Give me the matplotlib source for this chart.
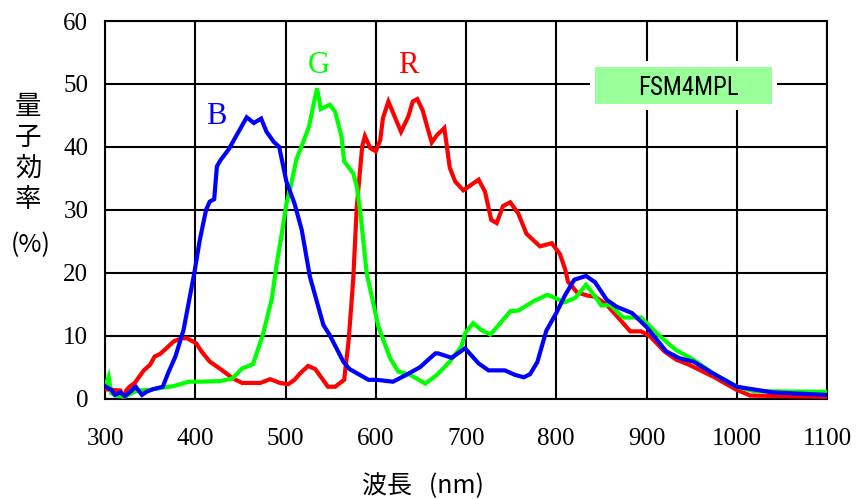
import matplotlib

matplotlib.use("Agg")
import matplotlib.pyplot as plt
from matplotlib import font_manager
from matplotlib.patches import Rectangle

# wavelength (nm) / quantum efficiency (%)
red_wl = [300, 309, 317, 320, 324, 328, 333, 343, 350, 355, 361, 368, 376, 385, 391,
          401, 407, 416, 429, 442, 452, 472, 483, 494, 503, 510, 516, 525, 533, 547,
          555, 565, 570, 575, 579, 585, 588, 594, 600, 605, 608, 614, 621, 628, 636,
          641, 646, 652, 657, 662, 668, 676, 682, 688, 697, 704, 714, 721, 728, 734,
          741, 749, 758, 767, 782, 795, 804, 810, 813, 823, 834, 843, 856, 871, 882,
          894, 904, 920, 933, 947, 974, 1000, 1015, 1100]
red_qe = [1.5, 1.4, 1.3, 0.3, 1.4, 2.0, 2.5, 4.5, 5.4, 6.7, 7.1, 8.0, 9.1, 9.6, 9.6,
          8.8, 7.5, 5.9, 4.6, 3.2, 2.5, 2.5, 3.1, 2.5, 2.3, 3.0, 4.0, 5.2, 4.7, 1.9,
          1.9, 3.0, 9.3, 18.9, 30.5, 40.1, 41.7, 39.8, 39.3, 41.1, 44.6, 47.2, 44.8, 42.4, 44.8,
          47.2, 47.6, 45.8, 43.2, 40.7, 41.9, 43.0, 36.7, 34.5, 33.1, 33.8, 34.8, 32.9, 28.4, 27.9,
          30.6, 31.2, 29.4, 26.2, 24.2, 24.7, 23.0, 20.5, 18.6, 16.9, 16.4, 16.2, 14.9, 12.5, 10.7,
          10.7, 9.9, 7.5, 6.2, 5.4, 3.5, 1.4, 0.5, 0.3]

green_wl = [300, 304, 307, 312, 322, 331, 338, 350, 361, 376, 393, 406, 428, 441, 452,
            464, 475, 485, 490, 496, 501, 505, 512, 520, 526, 531, 535, 539, 549, 555,
            562, 565, 575, 579, 583, 590, 603, 616, 625, 638, 655, 668, 682, 695, 699,
            708, 717, 727, 738, 749, 758, 775, 790, 799, 809, 821, 833, 839, 850, 860,
            874, 894, 915, 933, 952, 974, 1000, 1019, 1100]
green_qe = [1.9, 3.5, 0.9, 0.5, 0.3, 1.0, 1.3, 1.4, 1.7, 2.0, 2.7, 2.7, 2.8, 3.2, 4.8,
            5.5, 10.2, 16.0, 21.2, 26.3, 31.0, 33.2, 38.0, 40.9, 43.2, 46.7, 49.3, 46.0, 46.7, 45.6,
            41.7, 37.7, 35.8, 33.7, 29.5, 19.9, 11.4, 6.4, 4.3, 3.8, 2.4, 3.8, 5.9, 8.3, 10.4,
            12.0, 10.9, 10.2, 12.0, 13.9, 14.0, 15.5, 16.5, 16.0, 15.3, 16.0, 18.1, 17.0, 14.8, 14.9,
            12.9, 12.9, 9.9, 7.7, 6.2, 4.0, 1.9, 1.2, 1.1]

blue_wl = [300, 307, 311, 317, 322, 328, 334, 341, 346, 353, 364, 370, 378, 387, 394,
           399, 405, 412, 416, 421, 424, 428, 437, 446, 457, 465, 473, 479, 487, 493,
           501, 510, 518, 527, 542, 549, 564, 571, 592, 601, 619, 634, 649, 666, 669,
           684, 699, 714, 725, 743, 754, 764, 771, 779, 789, 800, 810, 820, 833, 843,
           856, 867, 884, 900, 922, 937, 952, 974, 1000, 1040, 1100]
blue_qe = [2.0, 1.4, 0.6, 1.0, 0.4, 1.1, 1.9, 0.6, 1.1, 1.5, 1.9, 4.1, 6.7, 10.9, 16.2,
           20.0, 25.2, 30.0, 31.3, 31.7, 36.9, 37.9, 39.6, 41.9, 44.7, 43.8, 44.5, 42.4, 40.8, 40.0,
           34.5, 31.0, 26.8, 19.4, 11.7, 10.1, 5.9, 4.7, 3.0, 3.0, 2.7, 3.8, 5.0, 7.2, 7.2,
           6.5, 8.0, 5.6, 4.5, 4.5, 3.8, 3.4, 3.9, 5.8, 10.8, 13.6, 16.5, 18.9, 19.5, 18.5,
           15.7, 14.6, 13.6, 11.4, 7.5, 6.4, 5.9, 4.0, 1.9, 1.0, 0.6]

xticks = list(range(300, 1101, 100))
yticks = list(range(0, 61, 10))
model = "FSM4MPL"

SERIF = "Liberation Serif"
JP = ["Noto Sans CJK JP", "DejaVu Sans"]
names = {f.name for f in font_manager.fontManager.ttflist}
narrow = next((n for n in ["Liberation Sans Narrow", "Roboto Condensed", "Open Sans Condensed"]
               if n in names), None)

W, H = 862, 499
fig = plt.figure(figsize=(W / 100, H / 100), dpi=100)
ax = fig.add_axes([105 / W, 1 - 398.7 / H, 722 / W, 377.7 / H])

ax.plot(red_wl, red_qe, color="#ff0000", lw=3, solid_joinstyle="miter", zorder=3)
ax.plot(green_wl, green_qe, color="#00ff00", lw=3, solid_joinstyle="miter", zorder=4)
ax.plot(blue_wl, blue_qe, color="#0000ff", lw=3, solid_joinstyle="miter", zorder=5)

ax.set_xlim(300, 1100)
ax.set_ylim(0, 60)
ax.set_xticks(xticks)
ax.set_yticks(yticks)
ax.grid(True, color="black", lw=1.5)
ax.set_axisbelow(True)
for s in ax.spines.values():
    s.set_linewidth(1.5)
ax.tick_params(length=0)
ax.tick_params(axis="x", pad=21)
ax.tick_params(axis="y", pad=12)
for lab in ax.get_xticklabels() + ax.get_yticklabels():
    lab.set_fontfamily(SERIF)
    lab.set_fontsize(18)

# curve names
ax.text(423, 43.7, "B", color="#0000ff", family=SERIF, fontsize=22, ha="center", va="baseline")
ax.text(537, 51.7, "G", color="#00ff00", family=SERIF, fontsize=22, ha="center", va="baseline")
ax.text(636, 51.7, "R", color="#ff0000", family=SERIF, fontsize=22, ha="center", va="baseline")

# model name box
ax.add_patch(Rectangle((0.6717, 0.7646), 0.259, 0.1295, transform=ax.transAxes,
                       fc="white", ec="none", zorder=6))
ax.add_patch(Rectangle((0.6787, 0.780), 0.2451, 0.098, transform=ax.transAxes,
                       fc="#99ff99", ec="none", zorder=7))
if narrow:
    ax.text(0.8075, 0.822, model, transform=ax.transAxes, family=narrow, fontsize=18,
            ha="center", va="center", zorder=8)
else:
    ax.text(0.8075, 0.822, model, transform=ax.transAxes, family="DejaVu Sans",
            fontstretch="condensed", fontsize=15, ha="center", va="center", zorder=8)

# axis titles
for ch, yp in zip("量子効率", [106, 137, 168.5, 199.5]):
    fig.text(28 / W, 1 - yp / H, ch, family=JP, fontsize=19, ha="center", va="center")
fig.text(31 / W, 1 - 245 / H, "(%)", family=JP, fontsize=18, ha="center", va="center")
fig.text(423 / W, 1 - 486 / H, "波長   (nm)", family=JP, fontsize=18, ha="center", va="center")

fig.savefig("out.png", dpi=100)
